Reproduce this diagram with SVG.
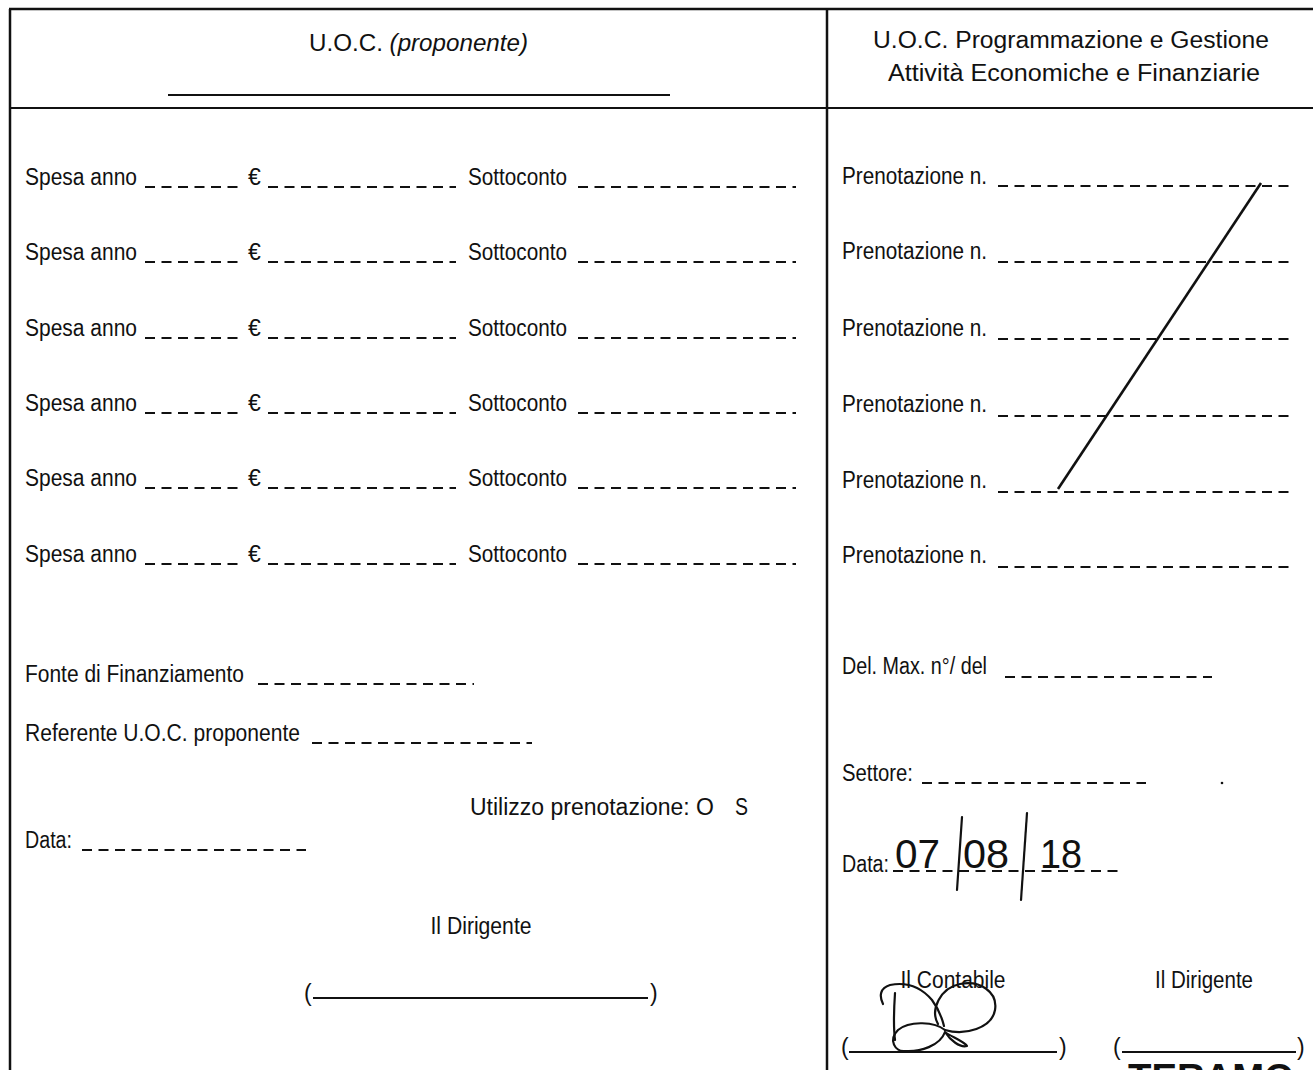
<svg xmlns="http://www.w3.org/2000/svg" width="1313" height="1070" viewBox="0 0 1313 1070">
<style>
.t{font-family:"Liberation Sans Narrow","Liberation Sans",Arial,sans-serif;font-size:23px;fill:#111}
.h{font-family:"Liberation Sans Narrow","Liberation Sans",Arial,sans-serif;font-size:23px;fill:#111;text-anchor:middle}
.hw{font-family:"Liberation Sans",Arial,sans-serif;font-size:40px;font-weight:300;fill:#111}
.d{stroke:#111;stroke-width:2;stroke-dasharray:10 6.5;fill:none}
.b{stroke:#111;stroke-width:2;fill:none}
.f{stroke:#111;stroke-width:2.5;fill:none}
.s{stroke:#111;stroke-width:2.2;fill:none;stroke-linecap:round;stroke-linejoin:round}
</style>
<rect width="1313" height="1070" fill="#fff"/>

<g id="frame">
<line class="f" x1="9" y1="9" x2="1313" y2="9"/>
<line class="f" x1="10" y1="9" x2="10" y2="1070"/>
<line class="b" x1="10" y1="108" x2="1313" y2="108"/>
<line class="f" x1="827" y1="9" x2="827" y2="1070"/>
</g>

<g id="header-left">
<text class="t" x="309" y="51" textLength="219" lengthAdjust="spacingAndGlyphs">U.O.C. <tspan font-style="italic">(proponente)</tspan></text>
<line class="b" x1="168" y1="95" x2="670" y2="95"/>
</g>

<g id="header-right">
<text class="h" x="1071" y="48" textLength="396" lengthAdjust="spacingAndGlyphs">U.O.C. Programmazione e Gestione</text>
<text class="h" x="1074" y="81" textLength="372" lengthAdjust="spacingAndGlyphs">Attività Economiche e Finanziarie</text>
</g>

<g id="spesa-rows">
<g id="spesa1">
<text class="t" x="25" y="185" textLength="112" lengthAdjust="spacingAndGlyphs">Spesa anno</text>
<line class="d" x1="145" y1="187" x2="243" y2="187"/>
<text class="t" x="248" y="185">€</text>
<line class="d" x1="268" y1="187" x2="456" y2="187"/>
<text class="t" x="468" y="185" textLength="99" lengthAdjust="spacingAndGlyphs">Sottoconto</text>
<line class="d" x1="578" y1="187" x2="796" y2="187"/>
</g>
<g id="spesa2">
<text class="t" x="25" y="260" textLength="112" lengthAdjust="spacingAndGlyphs">Spesa anno</text>
<line class="d" x1="145" y1="262" x2="243" y2="262"/>
<text class="t" x="248" y="260">€</text>
<line class="d" x1="268" y1="262" x2="456" y2="262"/>
<text class="t" x="468" y="260" textLength="99" lengthAdjust="spacingAndGlyphs">Sottoconto</text>
<line class="d" x1="578" y1="262" x2="796" y2="262"/>
</g>
<g id="spesa3">
<text class="t" x="25" y="336" textLength="112" lengthAdjust="spacingAndGlyphs">Spesa anno</text>
<line class="d" x1="145" y1="338" x2="243" y2="338"/>
<text class="t" x="248" y="336">€</text>
<line class="d" x1="268" y1="338" x2="456" y2="338"/>
<text class="t" x="468" y="336" textLength="99" lengthAdjust="spacingAndGlyphs">Sottoconto</text>
<line class="d" x1="578" y1="338" x2="796" y2="338"/>
</g>
<g id="spesa4">
<text class="t" x="25" y="411" textLength="112" lengthAdjust="spacingAndGlyphs">Spesa anno</text>
<line class="d" x1="145" y1="413" x2="243" y2="413"/>
<text class="t" x="248" y="411">€</text>
<line class="d" x1="268" y1="413" x2="456" y2="413"/>
<text class="t" x="468" y="411" textLength="99" lengthAdjust="spacingAndGlyphs">Sottoconto</text>
<line class="d" x1="578" y1="413" x2="796" y2="413"/>
</g>
<g id="spesa5">
<text class="t" x="25" y="486" textLength="112" lengthAdjust="spacingAndGlyphs">Spesa anno</text>
<line class="d" x1="145" y1="488" x2="243" y2="488"/>
<text class="t" x="248" y="486">€</text>
<line class="d" x1="268" y1="488" x2="456" y2="488"/>
<text class="t" x="468" y="486" textLength="99" lengthAdjust="spacingAndGlyphs">Sottoconto</text>
<line class="d" x1="578" y1="488" x2="796" y2="488"/>
</g>
<g id="spesa6">
<text class="t" x="25" y="562" textLength="112" lengthAdjust="spacingAndGlyphs">Spesa anno</text>
<line class="d" x1="145" y1="564" x2="243" y2="564"/>
<text class="t" x="248" y="562">€</text>
<line class="d" x1="268" y1="564" x2="456" y2="564"/>
<text class="t" x="468" y="562" textLength="99" lengthAdjust="spacingAndGlyphs">Sottoconto</text>
<line class="d" x1="578" y1="564" x2="796" y2="564"/>
</g>
</g>

<g id="prenotazione-rows">
<text class="t" x="842" y="184" textLength="145" lengthAdjust="spacingAndGlyphs">Prenotazione n.</text>
<line class="d" x1="998" y1="186" x2="1290" y2="186"/>
<text class="t" x="842" y="259" textLength="145" lengthAdjust="spacingAndGlyphs">Prenotazione n.</text>
<line class="d" x1="998" y1="262" x2="1290" y2="262"/>
<text class="t" x="842" y="336" textLength="145" lengthAdjust="spacingAndGlyphs">Prenotazione n.</text>
<line class="d" x1="998" y1="339" x2="1290" y2="339"/>
<text class="t" x="842" y="412" textLength="145" lengthAdjust="spacingAndGlyphs">Prenotazione n.</text>
<line class="d" x1="998" y1="416" x2="1290" y2="416"/>
<text class="t" x="842" y="488" textLength="145" lengthAdjust="spacingAndGlyphs">Prenotazione n.</text>
<line class="d" x1="998" y1="492" x2="1290" y2="492"/>
<text class="t" x="842" y="563" textLength="145" lengthAdjust="spacingAndGlyphs">Prenotazione n.</text>
<line class="d" x1="998" y1="567" x2="1290" y2="567"/>
<line x1="1261" y1="183" x2="1058" y2="489" stroke="#111" stroke-width="2.6"/>
</g>

<g id="left-lower">
<text class="t" x="25" y="682" textLength="219" lengthAdjust="spacingAndGlyphs">Fonte di Finanziamento</text>
<line class="d" x1="258" y1="684" x2="474" y2="684"/>
<text class="t" x="25" y="741" textLength="275" lengthAdjust="spacingAndGlyphs">Referente U.O.C. proponente</text>
<line class="d" x1="312" y1="743" x2="532" y2="743"/>
<text class="t" x="470" y="815" textLength="244" lengthAdjust="spacingAndGlyphs">Utilizzo prenotazione: O</text>
<text class="t" x="735" y="815" textLength="13" lengthAdjust="spacingAndGlyphs">S</text>
<text class="t" x="25" y="848" textLength="47" lengthAdjust="spacingAndGlyphs">Data:</text>
<line class="d" x1="82" y1="850" x2="306" y2="850"/>
<text class="h" x="481" y="934" textLength="101" lengthAdjust="spacingAndGlyphs">Il Dirigente</text>
<text class="t" x="304" y="1001">(</text>
<line class="b" x1="313" y1="998" x2="648" y2="998"/>
<text class="t" x="650" y="1001">)</text>
</g>

<g id="right-lower">
<text class="t" x="842" y="674" textLength="145" lengthAdjust="spacingAndGlyphs">Del. Max. n°/ del</text>
<line class="d" x1="1005" y1="677" x2="1212" y2="677"/>
<text class="t" x="842" y="781" textLength="71" lengthAdjust="spacingAndGlyphs">Settore:</text>
<line class="d" x1="922" y1="783" x2="1146" y2="783"/>
<circle cx="1222" cy="783" r="1.3" fill="#111"/>
<text class="t" x="842" y="872" font-size="19" textLength="47" lengthAdjust="spacingAndGlyphs">Data:</text>
<line class="d" x1="893" y1="871" x2="1118" y2="871"/>
<g id="handwritten-date">
<text class="hw" x="895" y="868" textLength="45" lengthAdjust="spacingAndGlyphs">07</text>
<line class="s" x1="962" y1="817" x2="957" y2="890"/>
<text class="hw" x="963" y="868" textLength="46" lengthAdjust="spacingAndGlyphs">08</text>
<line class="s" x1="1027" y1="813" x2="1021" y2="900"/>
<text class="hw" x="1040" y="868" textLength="42" lengthAdjust="spacingAndGlyphs">18</text>
</g>
<text class="h" x="953" y="988" textLength="105" lengthAdjust="spacingAndGlyphs">Il Contabile</text>
<text class="h" x="1204" y="988" textLength="98" lengthAdjust="spacingAndGlyphs">Il Dirigente</text>
<text class="t" x="841" y="1055">(</text>
<line class="b" x1="849" y1="1052" x2="1057" y2="1052"/>
<text class="t" x="1059" y="1055">)</text>
<text class="t" x="1113" y="1055">(</text>
<line class="b" x1="1122" y1="1052" x2="1296" y2="1052"/>
<text class="t" x="1297" y="1055">)</text>
<g id="signature">
<path class="s" d="M883,1004 C879,996 880,988 890,985 C905,982 920,986 932,1000 C938,1008 942,1018 944,1026"/>
<path class="s" d="M895,993 C894,1008 893,1024 895,1040"/>
<path class="s" d="M938,1024 C930,1010 940,988 960,984 C980,980 998,992 995,1010 C992,1028 965,1036 945,1030"/>
<path class="s" d="M945,1030 C935,1022 910,1020 898,1030 C888,1040 895,1052 905,1051 C920,1052 940,1046 945,1032 C950,1036 965,1042 967,1046 C960,1048 950,1040 945,1032"/>
</g>
<text x="1128" y="1090" font-family="Liberation Sans,Arial,sans-serif" font-weight="bold" font-size="36" fill="#111" textLength="166" lengthAdjust="spacingAndGlyphs">TERAMO</text>
</g>
</svg>
